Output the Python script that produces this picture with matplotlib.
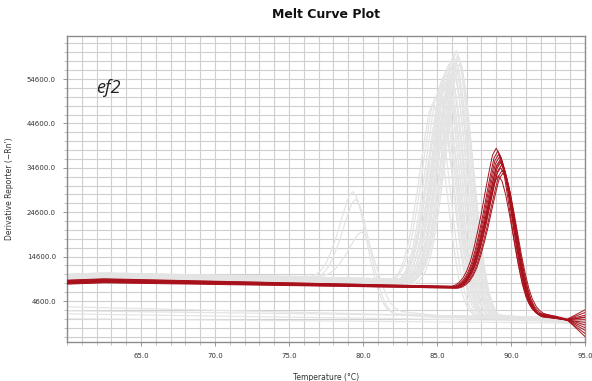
import numpy as np
import matplotlib
matplotlib.use("Agg")
import matplotlib.pyplot as plt
from matplotlib.ticker import MultipleLocator, FixedLocator

# ---------------- data ----------------
# shared peak shape: offset from Tm (deg C) and fraction of peak rise
PEAK_DT = [-3.0, -2.75, -2.5, -2.25, -2.0, -1.75, -1.5, -1.25, -1.0, -0.75, -0.5, -0.25, 0.0,
           0.25, 0.5, 0.75, 1.0, 1.25, 1.5, 1.75, 2.0, 2.25, 2.5, 2.75]
PEAK_FRAC = [0.0, 0.01, 0.03, 0.06, 0.11, 0.18, 0.28, 0.40, 0.53, 0.68, 0.82, 0.95, 1.0,
             0.96, 0.86, 0.72, 0.57, 0.42, 0.29, 0.18, 0.10, 0.05, 0.02, 0.0]

# red (ef2) curves
RED_TM = [89.0, 89.1, 89.15, 89.2, 89.25, 89.3, 89.35, 89.3, 89.4, 89.45, 89.15, 89.25]
RED_PEAK = [39000, 38300, 37600, 37000, 36400, 35800, 35200, 34600, 34000, 33400, 32800, 36000]
RED_LEFT = [9300, 9100, 8900, 8800, 8700, 8600, 8500, 9200, 9000, 8400, 8700, 8900]
RED_MID = [7900, 7800, 7700, 7600, 7700, 7500, 7800, 7900, 7600, 7500, 7700, 7800]
RED_FLOOR = [1900, 1700, 1500, 1400, 1300, 1200, 1600, 1100, 1000, 1800, 1400, 1250]
RED_SHOULDER = [500, 450, 400, 350, 300, 250, 420, 380, 320, 280, 360, 300]
RED_END = [2600, 2000, 1400, 900, 400, -200, -800, -1400, -2000, -2700, -3400, 1000]

# gray curves, main product peaks (~85-86.5 C)
GA_TM = [84.7, 84.9, 85.1, 85.3, 85.35, 85.4, 85.5, 85.55, 85.6, 85.7, 85.75, 85.8,
         85.9, 86.0, 86.05, 86.1, 86.2, 86.25, 86.3, 86.4, 86.45, 86.5, 85.2, 85.95]
GA_PEAK = [49000, 50500, 52000, 51000, 53500, 55000, 52500, 56000, 54000, 57000, 53000, 58000,
           55500, 59000, 56500, 60000, 57500, 58500, 61000, 60000, 59500, 58000, 50000, 54500]
GA_LEFT = [9800, 10200, 9600, 10500, 9900, 10300, 9700, 10100, 10600, 9500, 10000, 10400,
           9800, 10200, 9600, 10500, 9900, 10300, 9700, 10100, 10600, 9500, 10000, 10400]
GA_MID = [8800, 9200, 8600, 9400, 8900, 9300, 8700, 9100, 9500, 8500, 9000, 9400,
          8800, 9200, 8600, 9400, 8900, 9300, 8700, 9100, 9500, 8500, 9000, 9400]
GA_FLOOR = [1500, 1200, 1000, 1400, 900, 1300, 1100, 800, 1600, 1000, 1200, 900,
            1400, 1100, 1000, 1300, 800, 1200, 1500, 1000, 900, 1100, 1300, 1000]
GA_END = [200, -300, 500, 0, -600, 300, -200, 600, -400, 100, -800, 400,
          -100, 200, -500, 0, 300, -300, 500, -700, 100, -200, 0, 300]

# gray curves, low-temperature peaks (~79-80 C)
GB_TM = [79.3, 79.5, 79.9]
GB_PEAK = [29200, 27500, 20100]
GB_LEFT = [10200, 9800, 10400]
GB_MID = [10000, 9600, 10100]
GB_FLOOR = [1800, 1500, 2200]
GB_END = [-200, 300, 0]

# gray flat curves (no product)
GC_LEFT = [3300, 1700, 600, 2400]
GC_END = [500, 0, -400, 900]

X_TICKS = [65.0, 70.0, 75.0, 80.0, 85.0, 90.0, 95.0]
Y_TICKS = [4600.0, 14600.0, 24600.0, 34600.0, 44600.0, 54600.0]
X_RANGE = (60.0, 95.0)
Y_RANGE = (-4634, 64285)


def build_curve(tm, peak, left, mid, floor, tail_pts, end):
    xs = [60.0, 62.5]
    ys = [left, left + 300]
    for d, f in zip(PEAK_DT, PEAK_FRAC):
        base = mid if d <= 0 else floor
        xs.append(tm + d)
        ys.append(base + (peak - base) * f)
    for tx, ty in tail_pts:
        if tx > xs[-1] and tx < 95.0:
            xs.append(tx)
            ys.append(ty)
    xs.append(95.0)
    ys.append(end)
    return np.array(xs), np.array(ys)


fig = plt.figure(figsize=(5.92, 3.81), dpi=100)
ax = fig.add_axes([67 / 592, 1 - 342 / 381, 518 / 592, 306 / 381])

gray = "#e4e4e4"
for l, e in zip(GC_LEFT, GC_END):
    ax.plot([60.0, 95.0], [l, e], color=gray, lw=0.9, zorder=2)
for tm, pk, l, m, fl, e in zip(GB_TM, GB_PEAK, GB_LEFT, GB_MID, GB_FLOOR, GB_END):
    x, y = build_curve(tm, pk, l, m, fl, [(85.0, fl * 0.6)], e)
    ax.plot(x, y, color=gray, lw=0.9, zorder=2)
for tm, pk, l, m, fl, e in zip(GA_TM, GA_PEAK, GA_LEFT, GA_MID, GA_FLOOR, GA_END):
    x, y = build_curve(tm, pk, l, m, fl, [(91.5, fl * 0.5)], e)
    ax.plot(x, y, color=gray, lw=0.9, zorder=2)
for tm, pk, l, m, fl, sh, e in zip(RED_TM, RED_PEAK, RED_LEFT, RED_MID, RED_FLOOR,
                                   RED_SHOULDER, RED_END):
    x, y = build_curve(tm, pk, l, m, fl, [(93.0, (fl + sh) / 2), (93.8, sh)], e)
    ax.plot(x, y, color="#a8111c", lw=0.7, zorder=3)

ax.set_xlim(*X_RANGE)
ax.set_ylim(*Y_RANGE)

ax.xaxis.set_major_locator(FixedLocator(X_TICKS))
ax.xaxis.set_minor_locator(MultipleLocator(1.0))
ax.yaxis.set_major_locator(FixedLocator(Y_TICKS))
ax.yaxis.set_minor_locator(FixedLocator(np.arange(-3400, 64300, 2000)))
ax.set_xticklabels([f"{v:.1f}" for v in X_TICKS])
ax.set_yticklabels([f"{v:.1f}" for v in Y_TICKS])

ax.grid(True, which="both", color="#cfcfcf", lw=0.8, zorder=0)
ax.set_axisbelow(True)
ax.tick_params(which="major", labelsize=5, colors="#888888", labelcolor="#333333",
               length=3, width=0.6, pad=5)
ax.tick_params(which="minor", colors="#aaaaaa", length=2, width=0.5)
for s in ax.spines.values():
    s.set_color("#8c8c8c")
    s.set_linewidth(1.0)

ax.set_xlabel("Temperature (°C)", fontsize=5.5, color="#333333", labelpad=10)
ax.set_ylabel("Derivative Reporter (\u2212Rn')", fontsize=5.5, color="#333333", labelpad=9)
fig.text(326 / 592, 1 - 15 / 381, "Melt Curve Plot", fontsize=9, fontweight="bold",
         ha="center", va="center", color="#111111")
fig.text(96 / 592, 1 - 88 / 381, "ef2", fontsize=13, style="italic", family="Open Sans",
         ha="left", va="center", color="#222222")

fig.savefig("out.png", dpi=100, facecolor="white")
